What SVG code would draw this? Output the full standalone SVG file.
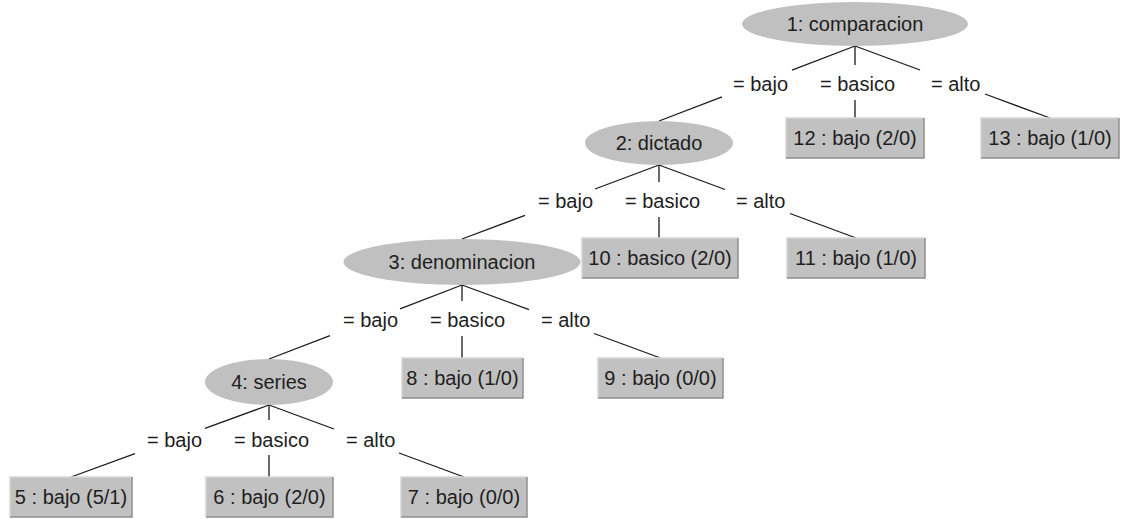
<svg xmlns="http://www.w3.org/2000/svg" width="1125" height="519" viewBox="0 0 1125 519">
  <style>
    .bg { fill: #ffffff; }
    .split ellipse { fill: #c0c0c0; }
    .leaf rect { fill: #c1c1c1; }
    .leaf polyline { fill: none; stroke: #8e8e8e; stroke-width: 1.5; }
    .leaf .hi { stroke: #d6d6d6; }
    text { font-family: "Liberation Sans", Arial, sans-serif; font-size: 20px; fill: #1e1e1e; }
    .mid { text-anchor: middle; }
    #connectors line { stroke: #1a1a1a; stroke-width: 1.3; }
  </style>
  <rect class="bg" x="0" y="0" width="1125" height="519"/>

  <!-- connectors: each edge is split around its branch label -->
  <g id="connectors">
    <!-- level 1: comparacion -->
    <line x1="855" y1="46" x2="792" y2="70.1"/>
    <line x1="722" y1="96.9" x2="659" y2="121"/>
    <line x1="855" y1="46" x2="855" y2="65"/>
    <line x1="855" y1="100" x2="855" y2="118"/>
    <line x1="855" y1="46" x2="920" y2="70"/>
    <line x1="985" y1="94" x2="1050" y2="118"/>
    <!-- level 2: dictado -->
    <line x1="659" y1="165" x2="595" y2="189"/>
    <line x1="525" y1="215.3" x2="462" y2="239"/>
    <line x1="659" y1="165" x2="659" y2="182"/>
    <line x1="659" y1="217" x2="659" y2="238"/>
    <line x1="659" y1="165" x2="725" y2="189.5"/>
    <line x1="790" y1="213.5" x2="856" y2="238"/>
    <!-- level 3: denominacion -->
    <line x1="462" y1="285" x2="400" y2="308.8"/>
    <line x1="330" y1="335.6" x2="269" y2="359"/>
    <line x1="462" y1="285" x2="462" y2="301"/>
    <line x1="462" y1="336" x2="462" y2="358"/>
    <line x1="462" y1="285" x2="529" y2="309.6"/>
    <line x1="594" y1="333.5" x2="660.5" y2="358"/>
    <!-- level 4: series -->
    <line x1="269" y1="405" x2="205" y2="428.3"/>
    <line x1="135" y1="453.7" x2="71" y2="477"/>
    <line x1="269" y1="405" x2="269" y2="420"/>
    <line x1="269" y1="455" x2="269" y2="477"/>
    <line x1="269" y1="405" x2="334" y2="429"/>
    <line x1="399" y1="453" x2="464" y2="477"/>
  </g>

  <!-- branch labels -->
  <g id="edge-labels">
    <text x="733" y="91">= bajo</text>
    <text x="820" y="91">= basico</text>
    <text x="931" y="91">= alto</text>
    <text x="538" y="208">= bajo</text>
    <text x="625" y="208">= basico</text>
    <text x="736" y="208">= alto</text>
    <text x="343" y="327">= bajo</text>
    <text x="430" y="327">= basico</text>
    <text x="541" y="327">= alto</text>
    <text x="147" y="447">= bajo</text>
    <text x="234" y="447">= basico</text>
    <text x="346" y="447">= alto</text>
  </g>

  <!-- split nodes -->
  <g id="n1" class="split">
    <ellipse cx="855" cy="24" rx="113" ry="22"/>
    <text class="mid" x="855" y="31">1: comparacion</text>
  </g>
  <g id="n2" class="split">
    <ellipse cx="659" cy="143" rx="74" ry="22"/>
    <text class="mid" x="659" y="150">2: dictado</text>
  </g>
  <g id="n3" class="split">
    <ellipse cx="462" cy="262" rx="118.5" ry="23"/>
    <text class="mid" x="462" y="269">3: denominacion</text>
  </g>
  <g id="n4" class="split">
    <ellipse cx="269" cy="382" rx="64" ry="23"/>
    <text class="mid" x="269" y="389">4: series</text>
  </g>

  <!-- leaf nodes -->
  <g id="n12" class="leaf">
    <rect x="786" y="118" width="138" height="40"/>
    <polyline class="hi" points="786,158 786,118 924,118"/>
    <polyline points="786,158 924,158 924,118"/>
    <text class="mid" x="855" y="145">12 : bajo (2/0)</text>
  </g>
  <g id="n13" class="leaf">
    <rect x="981" y="118" width="138" height="40"/>
    <polyline class="hi" points="981,158 981,118 1119,118"/>
    <polyline points="981,158 1119,158 1119,118"/>
    <text class="mid" x="1050" y="145">13 : bajo (1/0)</text>
  </g>
  <g id="n10" class="leaf">
    <rect x="582" y="238" width="156" height="40"/>
    <polyline class="hi" points="582,278 582,238 738,238"/>
    <polyline points="582,278 738,278 738,238"/>
    <text class="mid" x="660" y="265">10 : basico (2/0)</text>
  </g>
  <g id="n11" class="leaf">
    <rect x="787" y="238" width="138" height="40"/>
    <polyline class="hi" points="787,278 787,238 925,238"/>
    <polyline points="787,278 925,278 925,238"/>
    <text class="mid" x="856" y="265">11 : bajo (1/0)</text>
  </g>
  <g id="n8" class="leaf">
    <rect x="402" y="358" width="121" height="40"/>
    <polyline class="hi" points="402,398 402,358 523,358"/>
    <polyline points="402,398 523,398 523,358"/>
    <text class="mid" x="462.5" y="385">8 : bajo (1/0)</text>
  </g>
  <g id="n9" class="leaf">
    <rect x="598" y="358" width="125" height="40"/>
    <polyline class="hi" points="598,398 598,358 723,358"/>
    <polyline points="598,398 723,398 723,358"/>
    <text class="mid" x="660.5" y="385">9 : bajo (0/0)</text>
  </g>
  <g id="n5" class="leaf">
    <rect x="10" y="477" width="122" height="40"/>
    <polyline class="hi" points="10,517 10,477 132,477"/>
    <polyline points="10,517 132,517 132,477"/>
    <text class="mid" x="71" y="504">5 : bajo (5/1)</text>
  </g>
  <g id="n6" class="leaf">
    <rect x="206" y="477" width="127" height="40"/>
    <polyline class="hi" points="206,517 206,477 333,477"/>
    <polyline points="206,517 333,517 333,477"/>
    <text class="mid" x="269.5" y="504">6 : bajo (2/0)</text>
  </g>
  <g id="n7" class="leaf">
    <rect x="401" y="477" width="126" height="40"/>
    <polyline class="hi" points="401,517 401,477 527,477"/>
    <polyline points="401,517 527,517 527,477"/>
    <text class="mid" x="464" y="504">7 : bajo (0/0)</text>
  </g>
</svg>
